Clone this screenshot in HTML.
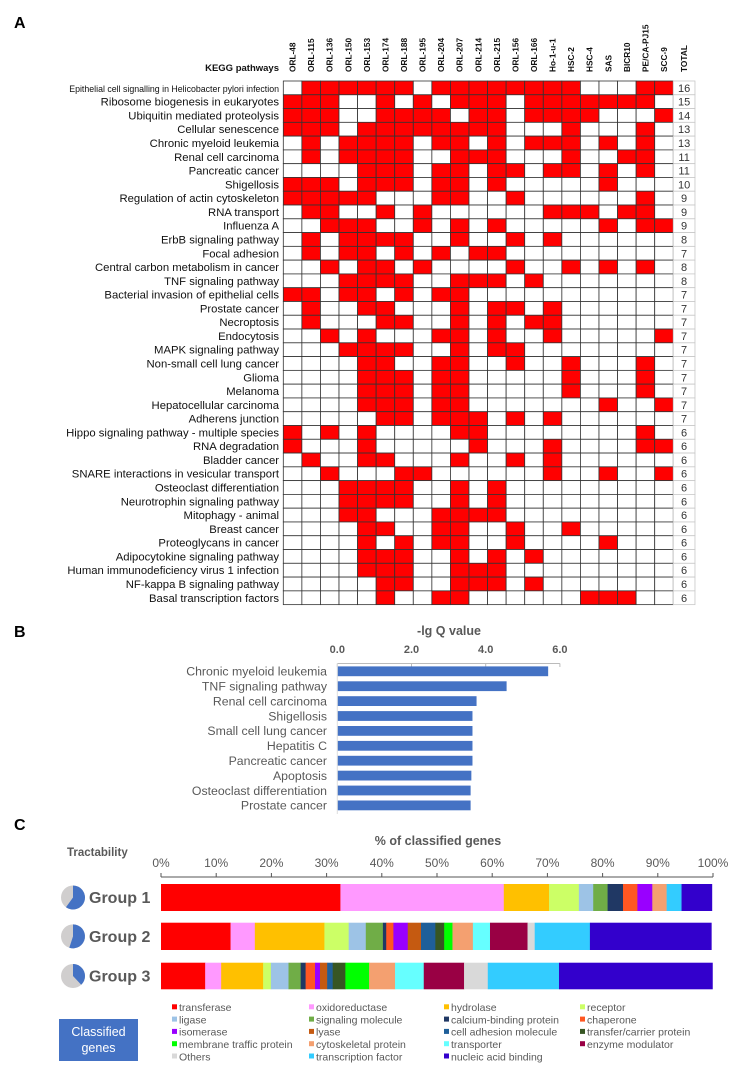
<!DOCTYPE html>
<html><head><meta charset="utf-8"><style>
html,body{margin:0;padding:0;background:#fff}
svg{display:block;font-family:"Liberation Sans",Arial,sans-serif}
</style></head><body>
<svg id="fig" width="750" height="1083" viewBox="0 0 750 1083" xmlns="http://www.w3.org/2000/svg">
<text x="14" y="28" font-size="16" font-weight="bold">A</text>
<text x="14" y="637" font-size="16" font-weight="bold">B</text>
<text x="14" y="830" font-size="16" font-weight="bold">C</text>
<text x="279" y="71" font-size="9.5" font-weight="bold" text-anchor="end" fill="#111">KEGG pathways</text>
<g id="heat"></g>
<g id="barB"></g>
<g id="barC"></g>
</svg>
<script>
const NS="http://www.w3.org/2000/svg";
// ---- Panel A data ----
const cellLines=["ORL-48","ORL-115","ORL-136","ORL-150","ORL-153","ORL-174","ORL-188","ORL-195","ORL-204","ORL-207","ORL-214","ORL-215","ORL-156","ORL-166","Ho-1-u-1","HSC-2","HSC-4","SAS","BICR10","PE/CA-PJ15","SCC-9"];
const pathways=["Epithelial cell signalling in Helicobacter pylori infection","Ribosome biogenesis in eukaryotes","Ubiquitin mediated proteolysis","Cellular senescence","Chronic myeloid leukemia","Renal cell carcinoma","Pancreatic cancer","Shigellosis","Regulation of actin cytoskeleton","RNA transport","Influenza A","ErbB signaling pathway","Focal adhesion","Central carbon metabolism in cancer","TNF signaling pathway","Bacterial invasion of epithelial cells","Prostate cancer","Necroptosis","Endocytosis","MAPK signaling pathway","Non-small cell lung cancer","Glioma","Melanoma","Hepatocellular carcinoma","Adherens junction","Hippo signaling pathway - multiple species","RNA degradation","Bladder cancer","SNARE interactions in vesicular transport","Osteoclast differentiation","Neurotrophin signaling pathway","Mitophagy - animal","Breast cancer","Proteoglycans in cancer","Adipocytokine signaling pathway","Human immunodeficiency virus 1 infection","NF-kappa B signaling pathway","Basal transcription factors"];
const matrix=[
"011111101111111100011",
"111001010111011111110",
"111001111011011110001",
"111011111111000100010",
"010111101101011101010",
"010111100111000100110",
"000011101101101101010",
"111011101101000001000",
"111110001100100000010",
"011001010000001110110",
"001110010101000001011",
"010111100100101000000",
"010110101011000000000",
"001011010000100101010",
"000111100111010000000",
"110110101100000000000",
"010011000101101000000",
"010001100101011000000",
"001010001101001000001",
"000111100101100000000",
"000011001100100100010",
"000011101100000100010",
"000011101100000100010",
"000011101100000001001",
"000001101110101000000",
"101010000110000000010",
"100010000010001000011",
"010011000100101000000",
"001000110000001001001",
"000111100101000000000",
"000111100101000000000",
"000110001111000000000",
"000011001100100100000",
"000010101100100001000",
"000011100101010000000",
"000011100111000000000",
"000001100111010000000",
"000001001100000011100"];
// ---- Panel B data ----
const bCats=["Chronic myeloid leukemia","TNF signaling pathway","Renal cell carcinoma","Shigellosis","Small cell lung cancer","Hepatitis C","Pancreatic cancer","Apoptosis","Osteoclast differentiation","Prostate cancer"];
const bVals=[5.67,4.55,3.74,3.63,3.63,3.63,3.63,3.60,3.58,3.58];
const bTicks=[0,2,4,6];
// ---- Panel C data ----
const cClasses=["transferase","oxidoreductase","hydrolase","receptor","ligase","signaling molecule","calcium-binding protein","chaperone","isomerase","lyase","cell adhesion molecule","transfer/carrier protein","membrane traffic protein","cytoskeletal protein","transporter","enzyme modulator","Others","transcription factor","nucleic acid binding"];
const cColors=["#FF0000","#FF99FF","#FFC000","#CCFF66","#9DC3E6","#70AD47","#203864","#FF5722","#9900FF","#C55A11","#1F5F99","#375623","#00FF00","#F4A070","#66FFFF","#990044","#D9D9D9","#33CCFF","#3300CC"];
const cGroups=["Group 1","Group 2","Group 3"];
const g1=[32.5,29.6,8.2,5.4,2.6,2.6,2.8,2.6,2.7,0,0,0,0,2.6,0,0,0,2.7,5.5];
const g2=[12.6,4.4,12.6,4.4,3.1,3.1,0.6,1.3,2.6,2.4,2.6,1.6,1.5,3.7,3.1,6.8,1.3,10.0,22.0];
const g3=[8.0,2.9,7.6,1.4,3.2,2.2,0.9,1.7,0.9,1.3,1.0,2.3,4.3,4.7,5.2,7.3,4.3,12.9,27.8];
const pieFrac=[0.60,0.55,0.38];
const cTicks=[0,10,20,30,40,50,60,70,80,90,100];

function el(tag,attrs,parent,text){const e=document.createElementNS(NS,tag);for(const k in attrs)e.setAttribute(k,attrs[k]);if(text!==undefined)e.textContent=text;parent.appendChild(e);return e;}

// ---- Heatmap ----
const heat=document.getElementById('heat');
const X0=283.3,CW=18.57,Y0=81,RH=13.78,TW=21.7;
const colX=i=>X0+i*CW, rowY=j=>Y0+j*RH;
cellLines.forEach((c,i)=>{
  const t=el('text',{x:0,y:0,'font-size':8.3,'font-weight':'bold',fill:'#111',transform:`translate(${colX(i)+CW/2+3},72) rotate(-90)`},heat,c);
  
  
});
const tt=el('text',{x:0,y:0,'font-size':8.3,'font-weight':'bold',fill:'#111',transform:`translate(${colX(21)+TW/2+3},72) rotate(-90)`},heat,"TOTAL");


pathways.forEach((p,j)=>{
  const lbl=el('text',{x:279,y:rowY(j)+RH/2+4,'font-size':j===0?8.8:11.3,'text-anchor':'end',fill:'#111'},heat,p);
  
  
  let tot=0;
  for(let i=0;i<21;i++){
    const on=matrix[j][i]==='1'; if(on)tot++;
    const r=el('rect',{x:colX(i),y:rowY(j),width:CW,height:RH,fill:on?'#FF0000':'#fff',stroke:'#333','stroke-width':0.8},heat);
    
    
  }
  const tr=el('rect',{x:colX(21),y:rowY(j),width:TW,height:RH,fill:'#fff',stroke:'#c8c8c8','stroke-width':0.8},heat);
  
  
  const tx=el('text',{x:colX(21)+TW/2,y:rowY(j)+RH/2+4,'font-size':11,'text-anchor':'middle',fill:'#333'},heat,String(tot));
  
  
});

// ---- Panel B ----
const bg=document.getElementById('barB');
const bx=v=>337.3+v*37.1, by=i=>671.3+i*14.9;
const bt=el('text',{x:449,y:635,'font-size':12.5,'font-weight':'bold','text-anchor':'middle',fill:'#595959'},bg,"-lg Q value");


el('line',{x1:bx(0),x2:bx(6),y1:663.5,y2:663.5,stroke:'#bbb','stroke-width':1},bg);
bTicks.forEach(t=>{
  el('line',{x1:bx(t),x2:bx(t),y1:663.5,y2:667,stroke:'#bbb'},bg);
  const l=el('text',{x:bx(t),y:653,'font-size':11,'font-weight':'bold','text-anchor':'middle',fill:'#595959'},bg,t.toFixed(1));
  
  
});
el('line',{x1:bx(0),x2:bx(0),y1:663.5,y2:814,stroke:'#ddd'},bg);
bCats.forEach((c,i)=>{
  const r=el('rect',{x:bx(0)+0.5,y:by(i)-4.9,width:bx(bVals[i])-bx(0),height:9.8,fill:'#4472C4'},bg);
  
  
  const l=el('text',{x:327,y:by(i)+4.3,'font-size':12.3,'text-anchor':'end',fill:'#595959'},bg,c);
  
  
});

// ---- Panel C ----
const cg=document.getElementById('barC');
const cx=v=>161+v*5.52;
const ct=el('text',{x:438,y:845,'font-size':12.5,'font-weight':'bold','text-anchor':'middle',fill:'#595959'},cg,"% of classified genes");


const tr2=el('text',{x:67,y:856,'font-size':11.5,'font-weight':'bold',fill:'#595959'},cg,"Tractability");


el('line',{x1:cx(0),x2:cx(100),y1:877,y2:877,stroke:'#555'},cg);
cTicks.forEach(t=>{
  el('line',{x1:cx(t),x2:cx(t),y1:873,y2:877,stroke:'#555'},cg);
  const l=el('text',{x:cx(t),y:867,'font-size':12,'text-anchor':'middle',fill:'#595959'},cg,t+"%");
  
  
});
const groupVals=[g1,g2,g3];
const gy=[884,922.7,962.7], gh=[27,27.3,26.6];
groupVals.forEach((vals,gi)=>{
  let acc=0;
  vals.forEach((v,k)=>{
    if(v<=0)return;
    const r=el('rect',{x:cx(acc),y:gy[gi],width:cx(acc+v)-cx(acc)+0.3,height:gh[gi],fill:cColors[k]},cg);
    
    
    acc+=v;
  });
  const cyc=gy[gi]+gh[gi]/2, pcx=73, R=12;
  el('circle',{cx:pcx,cy:cyc,r:R,fill:'#D0CECE'},cg);
  const a=pieFrac[gi]*2*Math.PI;
  const ex=pcx+R*Math.sin(a), ey=cyc-R*Math.cos(a);
  const pie=el('path',{d:`M${pcx},${cyc} L${pcx},${cyc-R} A${R},${R} 0 ${a>Math.PI?1:0} 1 ${ex},${ey} Z`,fill:'#4472C4'},cg);
  
  
  const gl=el('text',{x:89,y:cyc+5.5,'font-size':16,'font-weight':'bold',fill:'#595959'},cg,cGroups[gi]);
  
  
});
// legend
const box=el('rect',{x:59,y:1019,width:79,height:42,fill:'#4472C4'},cg);


el('text',{x:98.5,y:1036,'font-size':12.5,'text-anchor':'middle',fill:'#fff'},cg,"Classified");
el('text',{x:98.5,y:1052,'font-size':12.5,'text-anchor':'middle',fill:'#fff'},cg,"genes");
const legX=[172,309,444,580];
cClasses.forEach((c,k)=>{
  const col=k%4,row=Math.floor(k/4);
  const lx=legX[col], ly=1007.3+row*12.3;
  const s=el('rect',{x:lx,y:ly-3,width:5,height:5,fill:cColors[k]},cg);
  
  
  const t=el('text',{x:lx+7,y:ly+3.8,'font-size':10.5,fill:'#595959'},cg,c);
  
  
});
</script>
</body></html>
